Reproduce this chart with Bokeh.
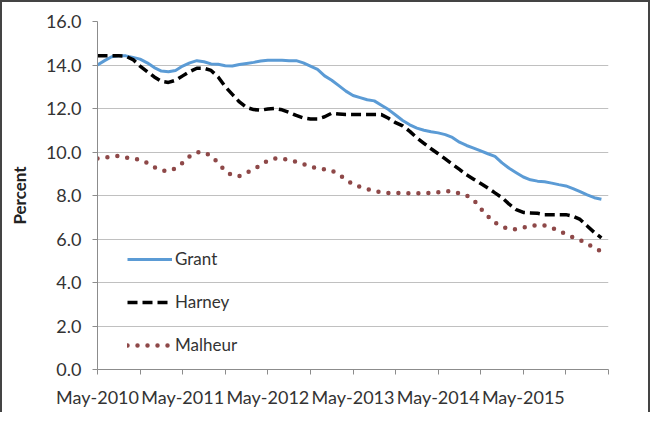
from bokeh.plotting import figure
from bokeh.models import FixedTicker, Range1d, Legend, LegendItem
from bokeh.embed import file_html
from bokeh.resources import INLINE

# Monthly data, index 0 = May-2010
months = list(range(72))
grant = [14.0, 14.2, 14.38, 14.42, 14.42, 14.35, 14.27, 14.1, 13.88, 13.72,
         13.69, 13.75, 13.95, 14.1, 14.2, 14.15, 14.05, 14.03, 13.97, 13.95,
         14.02, 14.07, 14.12, 14.18, 14.22, 14.22, 14.22, 14.2, 14.2, 14.1,
         13.95, 13.8, 13.5, 13.3, 13.05, 12.8, 12.6, 12.5, 12.4, 12.35,
         12.15, 11.95, 11.7, 11.45, 11.25, 11.1, 11.0, 10.93, 10.88, 10.8,
         10.67, 10.45, 10.3, 10.18, 10.05, 9.92, 9.8, 9.5, 9.25, 9.05,
         8.85, 8.72, 8.66, 8.63, 8.57, 8.5, 8.44, 8.32, 8.18, 8.03,
         7.9, 7.83]
harney = [14.42, 14.42, 14.42, 14.42, 14.4, 14.25, 13.95, 13.7, 13.45, 13.25,
          13.2, 13.3, 13.5, 13.7, 13.85, 13.85, 13.75, 13.45, 13.0, 12.65,
          12.3, 12.05, 11.95, 11.92, 11.98, 12.0, 11.94, 11.82, 11.68, 11.57,
          11.52, 11.52, 11.62, 11.78, 11.75, 11.72, 11.72, 11.72, 11.72, 11.72,
          11.72, 11.55, 11.35, 11.2, 10.95, 10.65, 10.4, 10.15, 9.92, 9.68,
          9.44, 9.2, 8.95, 8.75, 8.55, 8.35, 8.12, 7.9, 7.6, 7.35,
          7.22, 7.2, 7.18, 7.12, 7.12, 7.12, 7.12, 7.05, 6.9, 6.6,
          6.3, 6.05]
malheur = [9.7, 9.75, 9.78, 9.82, 9.75, 9.7, 9.65, 9.5, 9.3, 9.15,
           9.12, 9.25, 9.5, 9.8, 9.98, 10.0, 9.82, 9.5, 9.13, 8.92,
           8.9, 9.05, 9.2, 9.4, 9.6, 9.7, 9.7, 9.63, 9.55, 9.45,
           9.33, 9.25, 9.2, 9.15, 8.95, 8.75, 8.5, 8.4, 8.3, 8.2,
           8.15, 8.12, 8.12, 8.12, 8.1, 8.1, 8.1, 8.12, 8.15, 8.2,
           8.2, 8.1, 8.0, 7.8, 7.4, 7.05, 6.75, 6.58, 6.45, 6.45,
           6.52, 6.6, 6.64, 6.62, 6.52, 6.38, 6.22, 6.08, 5.95, 5.78,
           5.6, 5.42]

x_ticks = list(range(0, 73, 6))
x_labels = {0: "May-2010", 12: "May-2011", 24: "May-2012",
            36: "May-2013", 48: "May-2014", 60: "May-2015"}
y_ticks = [0, 2, 4, 6, 8, 10, 12, 14, 16]

FONT = "Lato"
TXT = "#333333"
AX = "#8c8c8c"

p = figure(width=650, height=412, output_backend="svg", toolbar_location=None,
           x_range=Range1d(0, 72), y_range=Range1d(0, 16),
           min_border_left=95, min_border_right=44, min_border_top=19,
           min_border_bottom=45)
# chart-area border: top, left and right sides (bottom is off the page)
p.styles = {"border-top": "2px solid #444444",
            "border-left": "2px solid #444444",
            "border-right": "2px solid #444444"}
p.outline_line_color = None
p.background_fill_color = "white"
p.border_fill_color = "white"

r1 = p.line(months, grant, line_color="#5B9BD5", line_width=3)
r2 = p.line(months, harney, line_color="black", line_width=3.5,
            line_dash="10 5")
r3 = p.line(months, malheur, line_color="#8E4848", line_width=4.5,
            line_dash="0 10", line_cap="round")

# axes
p.xaxis.ticker = FixedTicker(ticks=x_ticks)
p.xaxis.major_label_overrides = {t: x_labels.get(t, "") for t in x_ticks}
p.yaxis.ticker = FixedTicker(ticks=y_ticks)
p.yaxis.major_label_overrides = {t: f"{t:.1f}" for t in y_ticks}

for ax in (p.xaxis[0], p.yaxis[0]):
    ax.axis_line_color = AX
    ax.major_tick_line_color = AX
    ax.major_tick_out = 5
    ax.major_tick_in = 0
    ax.minor_tick_line_color = None
    ax.major_label_text_font = FONT
    ax.major_label_text_font_size = "18px"
    ax.major_label_text_color = TXT
    ax.major_label_standoff = 11

p.yaxis.axis_label = "Percent"
p.yaxis.axis_label_text_font = FONT
p.yaxis.axis_label_text_font_style = "bold"
p.yaxis.axis_label_text_font_size = "17px"
p.yaxis.axis_label_text_color = "#222222"
p.yaxis.axis_label_standoff = 13

p.xgrid.grid_line_color = None
p.ygrid.grid_line_color = "#c0c0c0"
p.ygrid.grid_line_width = 1

legend = Legend(items=[LegendItem(label="Grant", renderers=[r1]),
                       LegendItem(label="Harney", renderers=[r2]),
                       LegendItem(label="Malheur", renderers=[r3])],
                location=(30, 14))
legend.background_fill_alpha = 0
legend.border_line_alpha = 0
legend.padding = 0
legend.margin = 0
legend.spacing = 22
legend.glyph_width = 45
legend.glyph_height = 20
legend.label_height = 20
legend.label_standoff = 3
legend.label_text_font = FONT
legend.label_text_font_size = "17px"
legend.label_text_color = TXT
p.add_layout(legend)

open("out.html", "w").write(file_html(p, INLINE))
